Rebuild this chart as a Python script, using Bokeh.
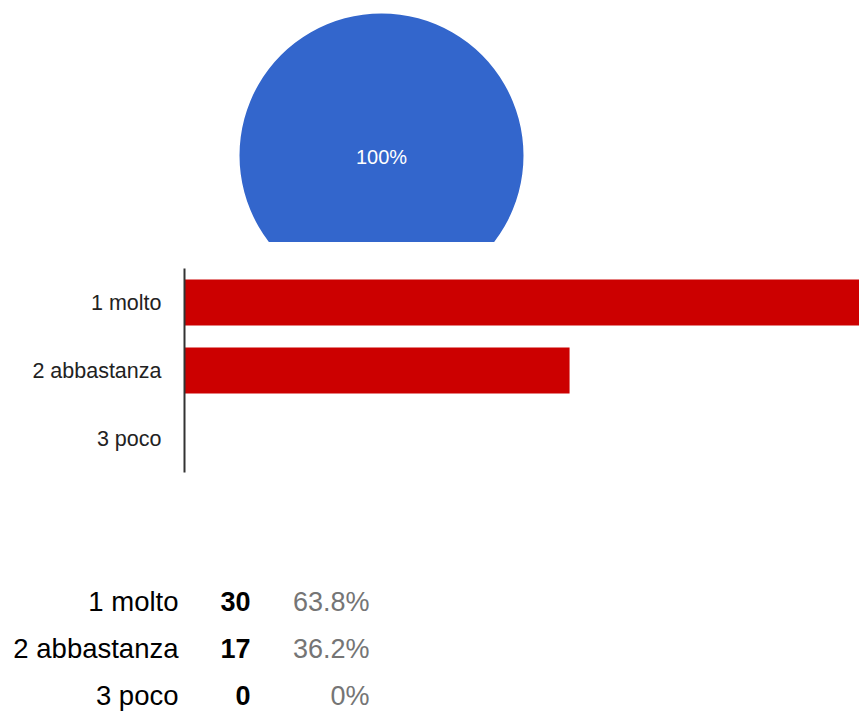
import numpy as np
from bokeh.plotting import figure
from bokeh.layouts import column
from bokeh.models import Range1d, FactorRange, ColumnDataSource, FixedTicker
from bokeh.core.properties import value
from bokeh.embed import file_html
from bokeh.resources import INLINE

# ---- data ----
pie_labels = ["1 molto"]
pie_values = [47]
pie_colors = ["#3366cc"]

categories = ["1 molto", "2 abbastanza", "3 poco"]
counts = [30, 17, 0]
percent_labels = ["63.8%", "36.2%", "0%"]

FONT = "Liberation Sans"
W = 859
LEFT = 184          # left border shared by all three plots (frames are aligned)
FW = W - LEFT       # frame width

def bare(p):
    p.grid.visible = False
    p.outline_line_color = None

# ---- pie ----
PIE_H = 242
CX, CY, R = 381 - LEFT, 155, 142
p1 = figure(width=W, height=PIE_H, x_range=Range1d(-CX, FW - CX),
            y_range=Range1d(CY - PIE_H, CY), output_backend="svg",
            toolbar_location=None, min_border=0, min_border_left=LEFT)
p1.axis.visible = False
bare(p1)
vals = np.array(pie_values, dtype=float)
frac = vals / vals.sum()
span = np.minimum(frac * 2 * np.pi, 2 * np.pi - 1e-4)
ends = np.cumsum(frac) * 2 * np.pi
starts = ends - frac * 2 * np.pi
pie_src = ColumnDataSource(dict(start=np.pi / 2 - starts, end=np.pi / 2 - starts - span,
                                color=pie_colors,
                                label=[f"{f*100:.0f}%" for f in frac]))
p1.wedge(x=0, y=0, radius=R, start_angle="start", end_angle="end",
         direction="clock", fill_color="color", line_color=None, source=pie_src)
p1.text(x=0, y=-1, text="label", source=pie_src, text_color="white",
        text_font=value(FONT), text_font_size="20px", text_align="center",
        text_baseline="middle")

# ---- bars ----
BAR_H = 278
p2 = figure(width=W, height=BAR_H, y_range=FactorRange(*categories[::-1], range_padding=0),
            x_range=Range1d(0, 29.8), output_backend="svg", toolbar_location=None,
            min_border_left=LEFT, min_border_right=0, min_border_top=26,
            min_border_bottom=48)
p2.hbar(y=categories, right=counts, height=0.68, fill_color="#cc0000", line_color=None)
p2.xaxis.visible = False
bare(p2)
ya = p2.yaxis[0]
ya.axis_line_color = "#333333"
ya.axis_line_width = 2
ya.major_tick_line_color = None
ya.minor_tick_line_color = None
ya.major_tick_out = 0
ya.major_tick_in = 0
ya.major_label_standoff = 23
ya.major_label_text_font = FONT
ya.major_label_text_font_size = "21.5px"
ya.major_label_text_color = "#222222"

# ---- table ----
TAB_H = 711 - PIE_H - BAR_H
rows = np.arange(len(categories))
p3 = figure(width=W, height=TAB_H, x_range=Range1d(0, FW),
            y_range=Range1d((TAB_H - 81) / 47, -81 / 47), output_backend="svg",
            toolbar_location=None, min_border=0, min_border_left=LEFT)
p3.xaxis.visible = False
bare(p3)
ta = p3.yaxis[0]
ta.ticker = FixedTicker(ticks=list(rows))
ta.major_label_overrides = {int(i): c for i, c in zip(rows, categories)}
ta.axis_line_color = None
ta.major_tick_line_color = None
ta.minor_tick_line_color = None
ta.major_tick_out = 0
ta.major_tick_in = 0
ta.major_label_standoff = 6
ta.major_label_text_font = FONT
ta.major_label_text_font_size = "27.5px"
ta.major_label_text_color = "#000000"

tsrc = ColumnDataSource(dict(y=rows, cnt=[str(c) for c in counts], pct=percent_labels))
common = dict(y="y", source=tsrc, text_font=value(FONT), text_font_size="27px",
              text_align="right", text_baseline="middle")
p3.text(x=250 - LEFT, text="cnt", text_color="#000000", text_font_style="bold", **common)
p3.text(x=369 - LEFT, text="pct", text_color="#757575", **common)

layout = column(p1, p2, p3, spacing=0)
open("out.html", "w").write(file_html(layout, INLINE))
